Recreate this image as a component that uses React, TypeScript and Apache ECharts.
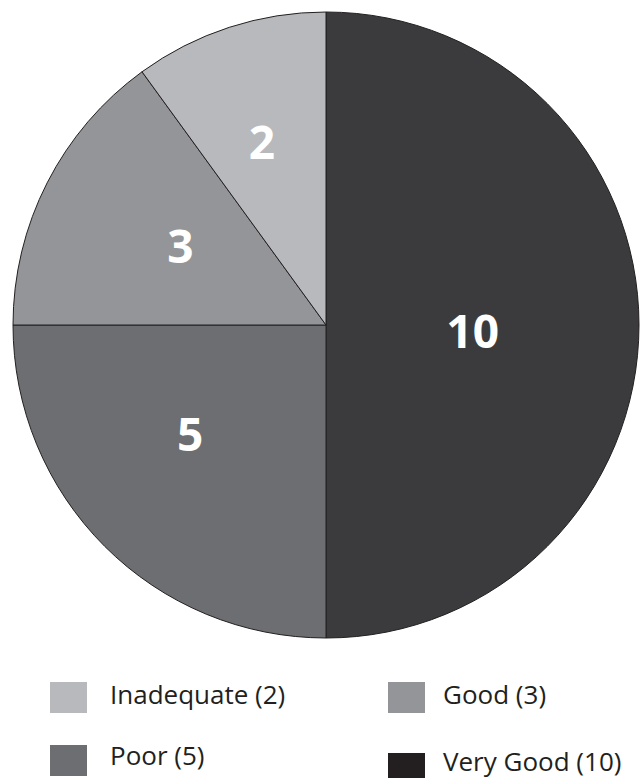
import React, { useEffect, useRef } from "react";
import * as echarts from "echarts";

const categories = ["Very Good", "Poor", "Good", "Inadequate"];
const values = [10, 5, 3, 2];
const sliceColors = ["#3b3b3d", "#6d6e71", "#939598", "#b8b9bc"];
const legendColors = ["#231f20", "#6d6e71", "#939598", "#b8b9bc"];

// nudges for the inside labels (relative to ECharts' default r/2 spot)
const labelRadialFactor = [0.92, 1.09, 1.04, 1.22];
const labelAngleShift = [2, 6.4, 1.7, -1.2];

const CX = 326;
const CY = 325;
const R = 313;

// legend key placement (swatch top-left, text start and middle line)
const legendLayout: Record<string, { x: number; y: number; tx: number; ty: number }> = {
  Inadequate: { x: 50, y: 682, tx: 110, ty: 693.5 },
  Good: { x: 388, y: 682, tx: 443, ty: 693.5 },
  Poor: { x: 50, y: 745, tx: 110, ty: 754.5 },
  "Very Good": { x: 388, y: 753, tx: 443, ty: 761 },
};

export default function App() {
  const ref = useRef<HTMLDivElement>(null);
  useEffect(() => {
    const chart = echarts.init(ref.current!, null, { renderer: "svg" });
    const fontFamily = "'Open Sans', sans-serif";
    const legendGraphics: any[] = [];
    categories.forEach((name, i) => {
      const p = legendLayout[name];
      legendGraphics.push({
        type: "rect",
        shape: { x: p.x, y: p.y, width: 37, height: 31 },
        style: { fill: legendColors[i] },
        silent: true,
      });
      legendGraphics.push({
        type: "text",
        x: p.tx,
        y: p.ty,
        style: {
          text: `${name} (${values[i]})`,
          fontFamily,
          fontSize: 26,
          fill: "#231f20",
          align: "left",
          verticalAlign: "middle",
        },
        silent: true,
      });
    });
    chart.setOption({
      animation: false,
      backgroundColor: "#ffffff",
      graphic: { elements: legendGraphics },
      series: [
        {
          type: "pie",
          center: [CX, CY],
          radius: [0, R],
          startAngle: 90,
          clockwise: true,
          avoidLabelOverlap: false,
          itemStyle: { borderColor: "#231f20", borderWidth: 1 },
          label: {
            show: true,
            position: "inside",
            formatter: "{c}",
            color: "#ffffff",
            fontFamily,
            fontWeight: "bold",
            fontSize: 46,
          },
          labelLine: { show: false },
          labelLayout: (params: any) => {
            const rect = params.labelRect;
            const lx = rect.x + rect.width / 2;
            const ly = rect.y + rect.height / 2;
            const vx = lx - CX;
            const vy = ly - CY;
            const f = labelRadialFactor[params.dataIndex];
            const a = (labelAngleShift[params.dataIndex] * Math.PI) / 180;
            const nx = f * (vx * Math.cos(a) - vy * Math.sin(a));
            const ny = f * (vx * Math.sin(a) + vy * Math.cos(a));
            return { dx: nx - vx, dy: ny - vy };
          },
          emphasis: { disabled: true },
          data: categories.map((name, i) => ({
            name,
            value: values[i],
            itemStyle: { color: sliceColors[i] },
          })),
        },
      ],
    });
    return () => chart.dispose();
  }, []);
  return (
    <div
      ref={ref}
      style={{ position: "fixed", left: 0, top: 0, width: 640, height: 778 }}
    />
  );
}
